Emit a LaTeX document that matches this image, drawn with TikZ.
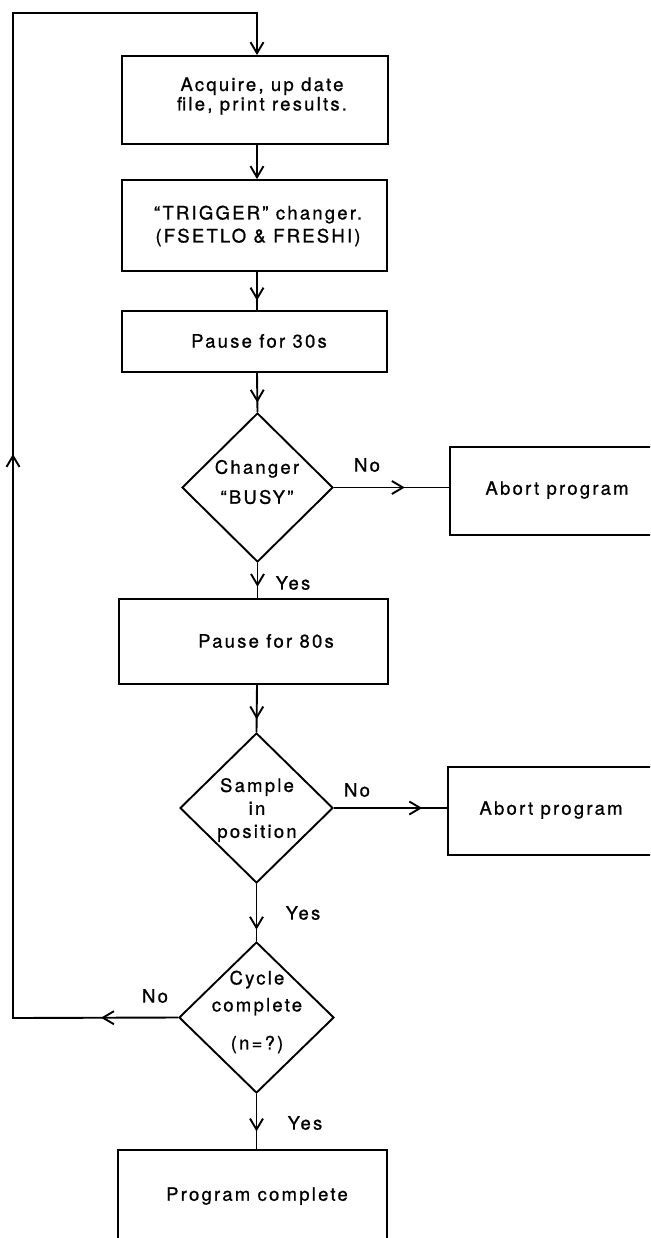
\documentclass[tikz,border=0pt]{standalone}
\usepackage{fontspec}
\setmainfont{TeX Gyre Heros}[LetterSpace=12,FakeBold=0.9]
\usetikzlibrary{shapes.geometric,arrows.meta,decorations.markings}
\tikzset{
  box/.style={draw, line width=1.9pt, rectangle, inner sep=0pt},
  dia/.style={draw, line width=1.9pt, diamond, inner sep=0pt},
  txt/.style={inner sep=0pt, align=center, font=\fontsize{18.5}{19.5}\selectfont},
  lbl/.style={inner sep=0pt, font=\fontsize{18.5}{20}\selectfont},
  conn/.style={line width=1.9pt},
  barb/.tip={Straight Barb[length=11pt,width=13pt,line width=1.9pt]},
  arrowat/.style={postaction={decorate},decoration={markings,mark=at position #1 with {\arrow{barb}}}},
}
\begin{document}
\begin{tikzpicture}[x=1pt,y=-1pt]
\useasboundingbox (0,0) rectangle (650,1238);
\fill[white] (0,0) rectangle (650,1238);
\clip (0,0) rectangle (650,1238);
% boxes
\node[box, minimum width=266pt, minimum height=88pt] (b1) at (255,100) {};
\node[box, minimum width=265pt, minimum height=91pt] (b2) at (254.5,225.5) {};
\node[box, minimum width=265pt, minimum height=61pt] (b3) at (254.5,341.5) {};
\node[dia, minimum width=151pt, minimum height=149pt] (d1) at (257.5,487.5) {};
\node[box, minimum width=214pt, minimum height=88pt] (a1) at (557,491) {};
\node[box, minimum width=269pt, minimum height=85pt] (b4) at (253.5,641.5) {};
\node[dia, minimum width=153pt, minimum height=150pt] (d2) at (256.5,808) {};
\node[box, minimum width=206pt, minimum height=88pt] (a2) at (551,811) {};
\node[dia, minimum width=155pt, minimum height=151pt] (d3) at (256.5,1017.5) {};
\node[box, minimum width=269pt, minimum height=92pt] (b5) at (252.5,1196) {};
% texts
\node[txt] (t1) at (262,96) {Acquire, up date\\file, print results.};
\node[txt, font=\fontsize{18.5}{23}\selectfont] (t2) at (258,226) {``TRIGGER'' changer.\\(FSETLO \& FRESHI)};
\node[txt] (t3) at (259,341) {Pause for 30s};
\node[txt, font=\fontsize{18.5}{30}\selectfont] (t4) at (257,482) {Changer\\``BUSY''};
\node[txt] (t5) at (557,490) {Abort program};
\node[txt] (t6) at (266,641) {Pause for 80s};
\node[txt, font=\fontsize{18.5}{23}\selectfont] (t7) at (257,810) {Sample\\in\\position};
\node[txt] (t8) at (551,810) {Abort program};
\node[txt, font=\fontsize{18.5}{27}\selectfont] (t9) at (257,1012) {Cycle\\complete\\[11pt](n=?)};
\node[txt] (t10) at (257,1196) {Program complete};
% labels
\node[lbl] (no1) at (367,465) {No};
\node[lbl] (yes1) at (293,583) {Yes};
\node[lbl] (no2) at (357,790) {No};
\node[lbl] (yes2) at (303,913) {Yes};
\node[lbl] (no3) at (155,996) {No};
\node[lbl] (yes3) at (305,1123) {Yes};
% connectors
\coordinate (c) at (257,0);
\coordinate (lc) at (13,1018);
\coordinate (tl) at (13,13);
\coordinate (tr) at (257,13);
\draw[conn,-{barb}] (b1.south -| c) -- (b2.north -| c);
\draw[conn,arrowat=0.75] (b2.south -| c) -- (b3.north -| c);
\draw[conn,arrowat=0.76] (b3.south -| c) -- (d1.north);
\draw[conn,arrowat=0.68] (d1.south) -- (b4.north -| d1.south);
\draw[conn,arrowat=0.73] (b4.south -| c) -- (d2.north);
\draw[conn,arrowat=0.8] (d2.south) -- (d3.north);
\draw[conn,arrowat=0.68] (d3.south) -- (b5.north -| d3.south);
\draw[conn,arrowat=0.615] (d1.east) -- (a1.west |- d1.east);
\draw[conn,arrowat=0.78] (d2.east) -- (a2.west |- d2.east);
\draw[conn,-{barb},postaction={decorate},decoration={markings,
  mark=at position 77pt with {\arrow{barb}},
  mark=at position 729pt with {\arrow{barb}}}]
  (d3.west) -- (lc) -- (tl) -- (tr) -- (b1.north -| c);
\end{tikzpicture}
\end{document}
